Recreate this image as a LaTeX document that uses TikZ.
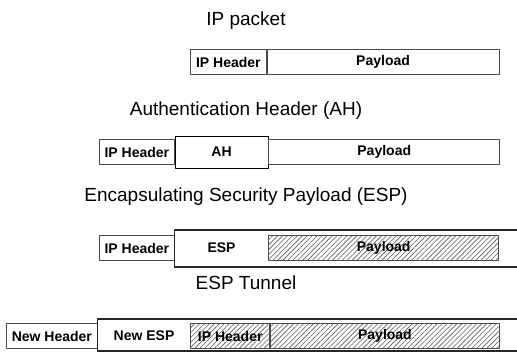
\documentclass[tikz,border=0pt]{standalone}
\usepackage{fontspec}
\setmainfont{Liberation Sans}
\usetikzlibrary{patterns.meta}

\tikzset{
  cell/.style={draw=black!70, line width=0.7pt, anchor=west, minimum height=25pt,
    inner sep=0pt, font=\fontsize{14}{16}\selectfont\bfseries},
  hatched/.style={cell, pattern={Lines[angle=45, distance=3.5pt, line width=0.6pt]},
    pattern color=black!65},
  caption/.style={font=\fontsize{19}{22}\selectfont},
  frame/.style={draw=black!85, line width=1.2pt},
}

\begin{document}
\begin{tikzpicture}[x=1pt, y=-1pt, line join=round, line cap=round]
  \useasboundingbox (0,0) rectangle (517,355);

  \path
    (190,62) coordinate (r1)
    (99,152) coordinate (r2)
    (99,248) coordinate (r3)
    (6,336) coordinate (r4)
    (517,230) coordinate (e3a)
    (517,267) coordinate (e3b)
    (517,319) coordinate (e4a)
    (517,351) coordinate (e4b)
  ;

  % IP packet
  \node[caption] (t1) at (246,21) {IP packet};
  \node[cell, minimum width=76pt] (ip1) at (r1) {IP Header};
  \node[cell, minimum width=232pt] (pl1) at (ip1.east) {Payload};

  % AH
  \node[caption] (t2) at (246,111) {Authentication Header (AH)};
  \node[cell, minimum width=75pt] (ip2) at (r2) {IP Header};
  \node[cell, minimum width=93pt, minimum height=32pt, draw=black] (ah2) at (ip2.east) {AH};
  \node[cell, minimum width=231pt] (pl2) at (ah2.east) {Payload};

  % ESP
  \node[caption] (t3) at (246,197) {Encapsulating Security Payload (ESP)};
  \node[cell, minimum width=75pt] (ip3) at (r3) {IP Header};
  \node[cell, draw=none, minimum width=93pt] (esp3) at (ip3.east) {ESP};
  \node[hatched, minimum width=230pt] (pl3) at (esp3.east) {Payload};
  \draw[frame] (e3a) -- (esp3.west |- e3a) -- (esp3.west |- e3b) -- (e3b);

  % ESP tunnel
  \node[caption] (t4) at (246,283) {ESP Tunnel};
  \node[cell, minimum width=91pt] (nh4) at (r4) {New Header};
  \node[cell, draw=none, minimum width=92pt] (ne4) at (nh4.east) {New ESP};
  \node[hatched, minimum width=79pt] (ip4) at (ne4.east) {IP Header};
  \node[hatched, minimum width=229pt] (pl4) at (ip4.east) {Payload};
  \draw[frame] (e4a) -- (ne4.west |- e4a) -- (ne4.west |- e4b) -- (e4b);
\end{tikzpicture}
\end{document}
